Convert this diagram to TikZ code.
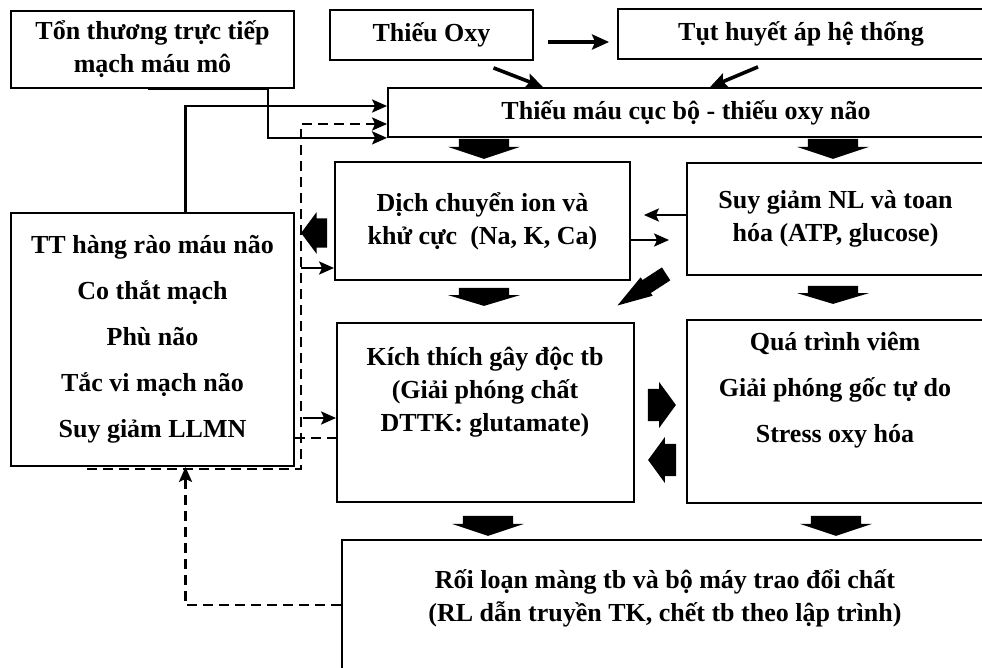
\documentclass[tikz,border=0pt]{standalone}
\usepackage{fontspec}
\setmainfont{Liberation Serif}
\usetikzlibrary{arrows.meta,calc}

\begin{document}
\begin{tikzpicture}[x=1pt, y=-1pt,
	box/.style={draw, line width=1.8pt, inner sep=0pt, align=center, font=\fontsize{26}{33}\selectfont\bfseries},
	t/.style={inner sep=0pt, align=center, font=\fontsize{26}{33}\selectfont\bfseries},
	ar/.style={line width=2.6pt, -{Stealth[length=15pt, width=13pt, inset=3pt]}},
	tk/.style={line width=3.6pt, -{Stealth[length=17pt, width=15pt, inset=3pt]}},
	ds/.style={line width=2.6pt, dash pattern=on 10pt off 6pt},
	fat/.pic={\fill (0,-0.35) -- (0.4,-0.35) -- (0.4,-0.5) -- (1,0) -- (0.4,0.5) -- (0.4,0.35) -- (0,0.35) -- cycle;}]
	\useasboundingbox (0,0) rectangle (982,668);
	\clip (0,0) rectangle (982,668);

	\node[box, minimum width=283, minimum height=77] (tt) at (152.5,49.5) {Tổn thương trực tiếp\\mạch máu mô};
	\node[box, minimum width=203, minimum height=50] (oxy) at (431.5,35) {Thiếu Oxy};
	\node[box, minimum width=366, minimum height=50] (tha) at (801,34) {Tụt huyết áp hệ thống};
	\node[box, minimum width=596, minimum height=49] (tmcb) at (686,112.5) {Thiếu máu cục bộ - thiếu oxy não};
	\node[box, minimum width=295, minimum height=118] (dc) at (482.5,221) {Dịch chuyển ion và\\khử cực~ (Na, K, Ca)};
	\node[box, minimum width=297, minimum height=112] (sg) at (835.5,219) {Suy giảm NL và toan\\hóa (ATP, glucose)};
	\node[box, minimum width=283, minimum height=253] (hr) at (152.5,339.5) {TT hàng rào máu não\\[13pt]Co thắt mạch\\[13pt]Phù não\\[13pt]Tắc vi mạch não\\[13pt]Suy giảm LLMN};
	\node[box, minimum width=297, minimum height=179] (kt) at (485.5,412.5) {};
	\node[t] (kt_text) at (485,392.5) {Kích thích gây độc tb\\(Giải phóng chất\\DTTK: glutamate)};
	\node[box, minimum width=297, minimum height=183] (vm) at (835.5,411.5) {};
	\node[t] (vm_text) at (835,390) {Quá trình viêm\\[13pt]Giải phóng gốc tự do\\[13pt]Stress oxy hóa};
	\node[box, minimum width=646, minimum height=160] (rl) at (665,620) {};
	\node[t] (rl_text) at (665,598) {Rối loạn màng tb và bộ máy trao đổi chất\\(RL dẫn truyền TK, chết tb theo lập trình)};

	\draw[tk] ($(oxy.east)+(14,7)$) -- ($(tha.west)+(-8,8)$);
	\draw[tk] ($(oxy.south)+(62,7)$) -- ($(tmcb.north)+(-143,0)$);
	\draw[tk] ($(tha.south)+(-43,7)$) -- ($(tmcb.north)+(24,0)$);
	\draw[ar] ($(tt.south)+(-5,0)$) -- ($(tt.south east)+(-27,0)$) |- (tmcb.south west);
	\draw[ar] ($(hr.north)+(33,0)$) |- ($(tmcb.west)+(0,-6.5)$);
	\draw[ar] ($(sg.west)+(0,-4)$) -- ($(dc.east)+(13,-6)$);
	\draw[ar] ($(dc.east)+(0,19)$) -- ($(sg.west)+(-17,21)$);

	\coordinate (ds_start) at (87,469);
	\coordinate (kt_low) at ($(kt.west)+(0,25.5)$);
	\draw[ds, ar] (ds_start) -| ($(tmcb.west)+(-86,11.5)$) -- ($(tmcb.west)+(0,11.5)$);
	\draw[ds] (hr.east |- kt_low) -- (kt_low);
	\draw[ar] ($(dc.west)+(-33,47)$) -- ($(dc.west)+(0,47)$);
	\draw[ar] ($(kt.west)+(-33,5.5)$) -- ($(kt.west)+(0,5.5)$);
	\draw[ds, ar] ($(rl.west)+(0,-15)$) -| ($(hr.south)+(33,0)$);

	\pic[rotate=-90, xscale=20, yscale=72] at ($(dc.north |- tmcb.south)+(1.5,1)$) {fat};
	\pic[rotate=-90, xscale=20, yscale=72] at ($(sg.north |- tmcb.south)+(-2.5,1)$) {fat};
	\pic[rotate=-90, xscale=18, yscale=72] at ($(dc.south)+(1.5,7)$) {fat};
	\pic[rotate=-90, xscale=18, yscale=72] at ($(sg.south)+(-2.5,10)$) {fat};
	\pic[rotate=-90, xscale=20, yscale=72] at ($(kt.south)+(2.5,13)$) {fat};
	\pic[rotate=-90, xscale=20, yscale=72] at ($(vm.south)+(0.5,12)$) {fat};
	\pic[xscale=28, yscale=46] at ($(kt.east)+(13,-7.5)$) {fat};
	\pic[rotate=180, xscale=28, yscale=46] at ($(vm.west)+(-10,48.5)$) {fat};
	\pic[rotate=180, xscale=26, yscale=42] at ($(dc.west)+(-7,12)$) {fat};
	\pic[rotate=213, xscale=58, yscale=22] at ($(sg.south west)+(-20,-2)$) {fat};
\end{tikzpicture}
\end{document}
